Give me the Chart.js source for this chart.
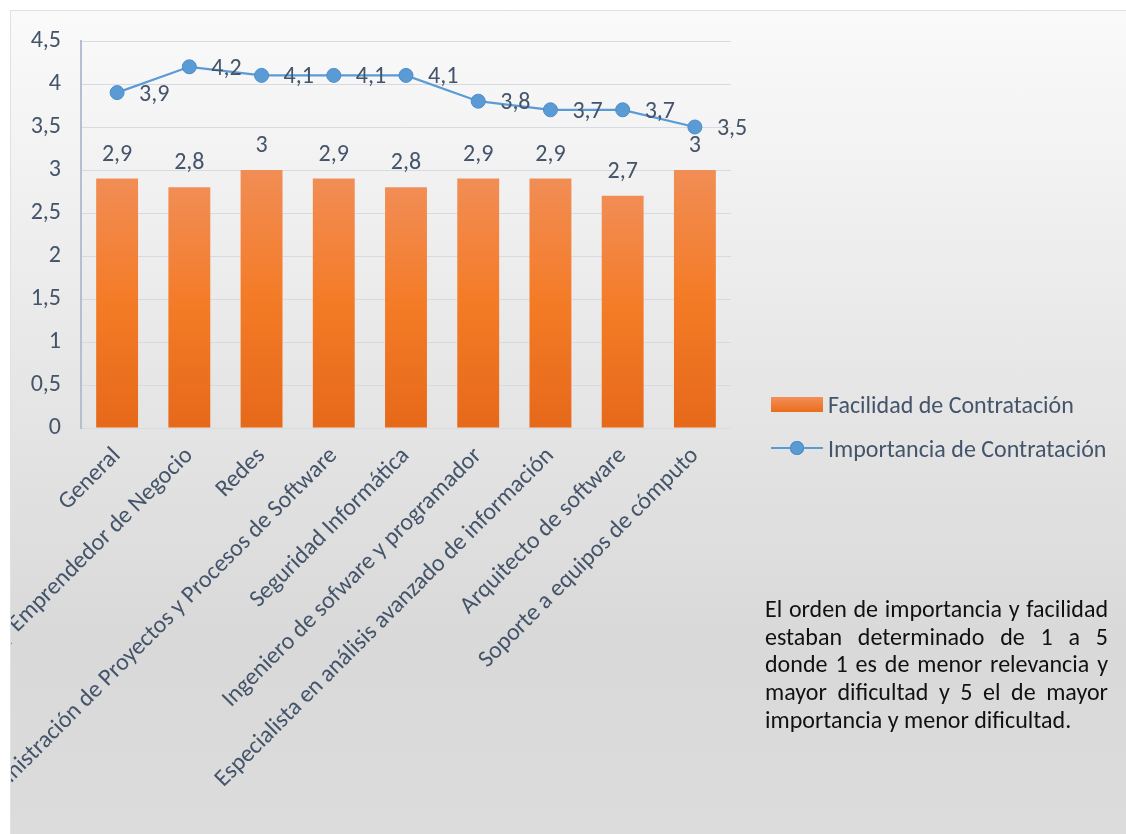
<!DOCTYPE html>
<html lang="es">
<head>
    <meta charset="UTF-8">
    <title>Facilidad e Importancia de Contratación</title>
    <style>
        html, body {
            margin: 0;
            padding: 0;
            background: #ffffff;
            overflow: hidden;
            width: 1126px;
            height: 834px;
        }

        #chartBox {
            position: absolute;
            left: 10px;
            top: 10px;
            width: 1130px;
            height: 840px;
            border: 1px solid #dde1e8;
            box-sizing: border-box;
            background: linear-gradient(#fafafa 0%, #e6e6e6 45%, #d9d9d9 75%, #dcdcdc 100%);
            overflow: hidden;
        }

        #chart {
            position: absolute;
            left: 0;
            top: 0;
        }

        .legend {
            position: absolute;
            left: 760px;
            font-family: Carlito, Calibri, "Open Sans", sans-serif;
            font-size: 24px;
            line-height: 29px;
            color: #44546a;
            display: flex;
            align-items: center;
            white-space: nowrap;
        }

        .legend .mark {
            width: 52px;
            height: 15px;
            margin-right: 5px;
            position: relative;
        }

        .legend .bar {
            background: linear-gradient(#f39058, #e96c1c);
        }

        .legend .line::before {
            content: "";
            position: absolute;
            left: 0;
            right: 0;
            top: 6px;
            height: 2px;
            background: #5b9bd5;
        }

        .legend .line::after {
            content: "";
            position: absolute;
            left: 19px;
            top: 0;
            width: 14px;
            height: 14px;
            border-radius: 50%;
            background: #5b9bd5;
            box-shadow: inset 0 0 0 1px #4b8bc8;
        }

        #note {
            position: absolute;
            left: 754px;
            top: 584px;
            width: 343px;
            font-family: Carlito, Calibri, "Open Sans", sans-serif;
            font-size: 24px;
            line-height: 27.7px;
            color: #111111;
            text-align: justify;
        }
    </style>
</head>
<body>
    <div id="chartBox">
        <canvas id="chart" width="1116" height="824"></canvas>
        <div class="legend" style="top: 379px;"><span class="mark bar"></span>Facilidad de Contratación</div>
        <div class="legend" style="top: 423px;"><span class="mark line"></span>Importancia de Contratación</div>
        <div id="note">El orden de importancia y facilidad estaban determinado de 1 a 5 donde 1 es de menor relevancia y mayor dificultad y 5 el de mayor importancia y menor dificultad.</div>
    </div>

    <script src="https://cdn.jsdelivr.net/npm/chart.js"></script>
    <script>
        const categories = [
            "General",
            "Consultor y Emprendedor de Negocio",
            "Redes",
            "Administración de Proyectos y Procesos de Software",
            "Seguridad Informática",
            "Ingeniero de sofware y programador",
            "Especialista en análisis avanzado de información",
            "Arquitecto de software",
            "Soporte a equipos de cómputo"
        ];
        const facilidad = [2.9, 2.8, 3, 2.9, 2.8, 2.9, 2.9, 2.7, 3];
        const importancia = [3.9, 4.2, 4.1, 4.1, 4.1, 3.8, 3.7, 3.7, 3.5];

        const FONT = 'Carlito, Calibri, "Open Sans", sans-serif';
        const TEXT = '#44546a';

        // 2.5 -> "2,5"
        const fmt = v => String(v).replace('.', ',');

        // orange fill, lighter at the top of each bar
        function barFill(ctx) {
            const chart = ctx.chart;
            const y = chart.scales.y;
            if (!chart.chartArea || !y || ctx.parsed === undefined) return '#f07f2e';
            const top = y.getPixelForValue(ctx.parsed.y);
            const bottom = y.getPixelForValue(0);
            const g = chart.ctx.createLinearGradient(0, top, 0, bottom);
            g.addColorStop(0, '#f18d55');
            g.addColorStop(0.5, '#f47b26');
            g.addColorStop(1, '#e6691a');
            return g;
        }

        // value labels: above the bars, right of the line points
        const valueLabels = {
            id: 'valueLabels',
            afterDatasetsDraw(chart) {
                const c = chart.ctx;
                c.save();
                c.font = '24px ' + FONT;
                c.fillStyle = TEXT;
                c.textBaseline = 'middle';
                chart.data.datasets.forEach((ds, i) => {
                    const meta = chart.getDatasetMeta(i);
                    meta.data.forEach((el, j) => {
                        const txt = fmt(ds.data[j]);
                        if (ds.type === 'line') {
                            c.textAlign = 'left';
                            c.fillText(txt, el.x + 22, el.y + 2);
                        } else {
                            c.textAlign = 'center';
                            c.fillText(txt, el.x, el.y - 24);
                        }
                    });
                });
                c.restore();
            }
        };

        new Chart(document.getElementById('chart'), {
            data: {
                labels: categories,
                datasets: [
                    {
                        type: 'line',
                        label: 'Importancia de Contratación',
                        data: importancia,
                        borderColor: '#5b9bd5',
                        borderWidth: 2.25,
                        pointRadius: 7,
                        pointHoverRadius: 7,
                        pointBackgroundColor: '#5b9bd5',
                        pointBorderColor: '#4b8bc8',
                        pointBorderWidth: 1,
                        tension: 0,
                        order: 0
                    },
                    {
                        type: 'bar',
                        label: 'Facilidad de Contratación',
                        data: facilidad,
                        backgroundColor: barFill,
                        categoryPercentage: 1,
                        barPercentage: 0.58,
                        order: 1
                    }
                ]
            },
            options: {
                responsive: false,
                animation: false,
                layout: {
                    padding: { top: 30, left: 0, right: 396, bottom: 0 }
                },
                plugins: {
                    legend: { display: false },
                    tooltip: { enabled: false }
                },
                scales: {
                    x: {
                        grid: { display: false },
                        border: { display: false },
                        ticks: {
                            color: TEXT,
                            font: { family: FONT, size: 24 },
                            minRotation: 45,
                            maxRotation: 45,
                            autoSkip: false,
                            padding: 6
                        },
                        afterFit(scale) {
                            scale.paddingLeft = 0;
                            scale.paddingRight = 0;
                            scale.height = 407;
                        }
                    },
                    y: {
                        min: 0,
                        max: 4.5,
                        ticks: {
                            stepSize: 0.5,
                            color: TEXT,
                            font: { family: FONT, size: 24 },
                            padding: 20,
                            callback: v => fmt(v)
                        },
                        grid: {
                            color: '#d6dbe3',
                            lineWidth: 1,
                            drawTicks: false
                        },
                        border: { display: true, color: '#b4bfcf', width: 2 },
                        afterFit(scale) {
                            scale.paddingTop = 0;
                            scale.paddingBottom = 0;
                            scale.width = 70;
                        }
                    }
                }
            },
            plugins: [valueLabels]
        });
    </script>
</body>
</html>
